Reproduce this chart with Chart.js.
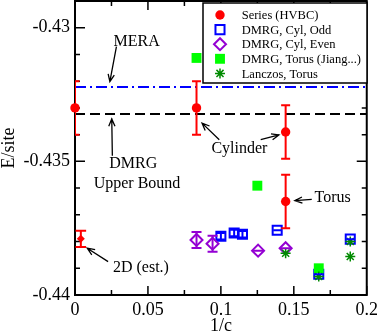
<!DOCTYPE html>
<html>
<head>
<meta charset="utf-8">
<script src="https://cdn.jsdelivr.net/npm/chart.js@4.4.1/dist/chart.umd.min.js"></script>
<style>
  html, body { margin: 0; padding: 0; background: #fff; }
  canvas { display: block; }
</style>
</head>
<body>
<canvas id="chart" width="382" height="335"></canvas>
<script>
// values
const seriesX = [0, 0.0833, 0.1444, 0.1444]
const seriesY = [-0.4330, -0.4330, -0.4339, -0.4365]
const seriesErr = [0.001, 0.001, 0.001, 0.001]

const est2dX = [0.004]
const est2dY = [-0.4379]
const est2dErr = [0.0003]

const cylOddX = [0.1000, 0.1091, 0.1148, 0.1386, 0.1671, 0.1887]
const cylOddY = [-0.43780, -0.43768, -0.43773, -0.43758, -0.43922, -0.43791]
const cylOddErr = [0.00012, 0.00012, 0.00012, 0, 0, 0]

const cylEvenX = [0.0833, 0.0943, 0.1255, 0.1444]
const cylEvenY = [-0.43794, -0.43808, -0.43834, -0.43825]
const cylEvenErr = [0.0003, 0.0003, 0, 0]

const torusJiangX = [0.0833, 0.125, 0.1671]
const torusJiangY = [-0.43113, -0.43591, -0.43900]

const lanczosX = [0.1444, 0.1671, 0.1887, 0.1887]
const lanczosY = [-0.43844, -0.43931, -0.43800, -0.43856]

const meraEnergy = -0.43222
const dmrgBound = -0.43323

const xTickValues = [0, 0.05, 0.1, 0.15, 0.2]
const xMinorTicks = [0.025, 0.075, 0.125, 0.175]
const yTickValues = [-0.44, -0.435, -0.43]
const yMinorTicks = [-0.439, -0.438, -0.437, -0.436, -0.434, -0.433, -0.432, -0.431, -0.429]

const legendLabels = ['Series (HVBC)', 'DMRG, Cyl, Odd', 'DMRG, Cyl, Even', 'DMRG, Torus (Jiang...)', 'Lanczos, Torus']

const notes = [
  {text: 'MERA', x: 0.0423, y: -0.43054},
  {text: 'DMRG', x: 0.0399, y: -0.43509},
  {text: 'Upper Bound', x: 0.0425, y: -0.43584},
  {text: 'Cylinder', x: 0.1127, y: -0.43453},
  {text: 'Torus', x: 0.1766, y: -0.43636},
  {text: '2D (est.)', x: 0.0452, y: -0.43900}
]
const arrows = [
  {from: [0.0284, -0.43071], to: [0.0239, -0.43202]},
  {from: [0.0256, -0.43479], to: [0.0252, -0.43341]},
  {from: [0.0989, -0.43419], to: [0.0871, -0.43357]},
  {from: [0.1273, -0.43419], to: [0.1398, -0.43401]},
  {from: [0.1623, -0.43642], to: [0.1507, -0.43647]},
  {from: [0.0227, -0.43875], to: [0.0084, -0.43825]}
]

const SERIF = '"Liberation Serif", "DejaVu Serif", serif'
const pts = (xs, ys) => xs.map((x, i) => ({x, y: ys[i]}))

const datasets = [
  {
    label: legendLabels[4], data: pts(lanczosX, lanczosY), order: 1,
    pointStyle: 'star', pointRadius: 5, borderColor: '#008b00', backgroundColor: '#008b00',
    pointBorderWidth: 1.5, legend: 4
  },
  {
    label: legendLabels[3], data: pts(torusJiangX, torusJiangY), order: 2,
    pointStyle: 'rect', pointRadius: 7, borderColor: '#00ff00', backgroundColor: '#00ff00',
    pointBorderWidth: 0, legend: 3
  },
  {
    label: legendLabels[2], data: pts(cylEvenX, cylEvenY), order: 3, errors: cylEvenErr, cap: 5,
    pointStyle: 'rectRot', pointRadius: 6, borderColor: '#9400d3', backgroundColor: 'rgba(0,0,0,0)',
    pointBorderWidth: 2, legend: 2
  },
  {
    label: legendLabels[1], data: pts(cylOddX, cylOddY), order: 4, errors: cylOddErr, cap: 4,
    pointStyle: 'rect', pointRadius: 6.4, borderColor: '#0000ff', backgroundColor: 'rgba(0,0,0,0)',
    pointBorderWidth: 2, legend: 1
  },
  {
    label: legendLabels[0], data: pts(seriesX, seriesY), order: 5, errors: seriesErr, cap: 4.5,
    pointStyle: 'circle', pointRadius: 4.7, borderColor: '#ff0000', backgroundColor: '#ff0000',
    pointBorderWidth: 0, legend: 0
  },
  {
    label: '2D (est.)', data: pts(est2dX, est2dY), order: 5, errors: est2dErr, cap: 5.3,
    pointStyle: 'rectRot', pointRadius: 4, borderColor: '#ff0000', backgroundColor: '#ff0000',
    pointBorderWidth: 0
  },
  {
    label: 'MERA', data: [{x: 0, y: meraEnergy}, {x: 0.2, y: meraEnergy}], order: 10,
    showLine: true, pointRadius: 0, borderColor: '#0000ff', borderWidth: 2, borderDash: [11, 4, 2, 4]
  },
  {
    label: 'DMRG', data: [{x: 0, y: dmrgBound}, {x: 0.2, y: dmrgBound}], order: 10,
    showLine: true, pointRadius: 0, borderColor: '#000000', borderWidth: 2, borderDash: [10, 5]
  }
]
datasets.forEach(d => { d.clip = false })

const framePlugin = {
  id: 'frame',
  beforeDatasetsDraw(chart) {
    const {ctx, chartArea: a, scales: {x, y}} = chart
    ctx.save()
    ctx.strokeStyle = '#000'
    ctx.lineWidth = 1.5
    ctx.beginPath()
    const xTick = (v, len) => {
      const px = x.getPixelForValue(v)
      ctx.moveTo(px, a.bottom); ctx.lineTo(px, a.bottom - len)
      ctx.moveTo(px, a.top); ctx.lineTo(px, a.top + len)
    }
    const yTick = (v, len) => {
      const py = y.getPixelForValue(v)
      ctx.moveTo(a.left, py); ctx.lineTo(a.left + len, py)
      ctx.moveTo(a.right, py); ctx.lineTo(a.right - len, py)
    }
    xTickValues.forEach(v => xTick(v, 9))
    xMinorTicks.forEach(v => xTick(v, 5))
    yTickValues.forEach(v => yTick(v, 10))
    yMinorTicks.forEach(v => yTick(v, 5))
    ctx.stroke()
    ctx.lineWidth = 2
    ctx.strokeRect(a.left, a.top, a.right - a.left, a.bottom - a.top)
    ctx.restore()
  }
}

const errorBarPlugin = {
  id: 'errorBars',
  afterDatasetsDraw(chart) {
    const {ctx, chartArea: a, scales: {y}} = chart
    ctx.save()
    ctx.beginPath()
    ctx.rect(a.left, a.top, a.right - a.left, a.bottom - a.top)
    ctx.clip()
    chart.data.datasets.forEach((ds, i) => {
      if (!ds.errors) return
      const meta = chart.getDatasetMeta(i)
      ctx.strokeStyle = ds.borderColor
      ctx.lineWidth = 2
      ds.data.forEach((p, j) => {
        const px = meta.data[j].x
        const top = y.getPixelForValue(p.y + ds.errors[j])
        const bot = y.getPixelForValue(p.y - ds.errors[j])
        ctx.beginPath()
        ctx.moveTo(px, top); ctx.lineTo(px, bot)
        ctx.moveTo(px - ds.cap, top); ctx.lineTo(px + ds.cap, top)
        ctx.moveTo(px - ds.cap, bot); ctx.lineTo(px + ds.cap, bot)
        ctx.stroke()
      })
    })
    ctx.restore()
  }
}

const notesPlugin = {
  id: 'notes',
  afterDraw(chart) {
    const {ctx, chartArea: a, scales: {x, y}} = chart
    ctx.save()
    ctx.fillStyle = '#000'
    ctx.font = '16px ' + SERIF
    ctx.textAlign = 'center'
    ctx.textBaseline = 'middle'
    notes.forEach(n => ctx.fillText(n.text, x.getPixelForValue(n.x), y.getPixelForValue(n.y)))

    ctx.strokeStyle = '#000'
    ctx.lineWidth = 1.3
    arrows.forEach(ar => {
      const x0 = x.getPixelForValue(ar.from[0]), y0 = y.getPixelForValue(ar.from[1])
      const x1 = x.getPixelForValue(ar.to[0]), y1 = y.getPixelForValue(ar.to[1])
      const ang = Math.atan2(y1 - y0, x1 - x0)
      ctx.beginPath()
      ctx.moveTo(x0, y0); ctx.lineTo(x1, y1)
      ctx.moveTo(x1 - 8 * Math.cos(ang - 0.4), y1 - 8 * Math.sin(ang - 0.4))
      ctx.lineTo(x1, y1)
      ctx.lineTo(x1 - 8 * Math.cos(ang + 0.4), y1 - 8 * Math.sin(ang + 0.4))
      ctx.stroke()
    })

    // legend box in the top right corner
    const bx = a.left + 128, by = a.top + 2, bw = 164, bh = 80
    ctx.fillStyle = '#fff'
    ctx.fillRect(bx, by, bw, bh)
    ctx.lineWidth = 1.5
    ctx.strokeRect(bx, by, bw, bh)
    const entries = chart.data.datasets.filter(d => d.legend !== undefined)
      .sort((p, q) => p.legend - q.legend)
    ctx.font = '12.5px ' + SERIF
    ctx.textAlign = 'left'
    entries.forEach((d, i) => {
      const ly = by + 12 + i * 14.6
      ctx.fillStyle = d.backgroundColor
      ctx.strokeStyle = d.borderColor
      ctx.lineWidth = d.pointBorderWidth
      Chart.helpers.drawPoint(ctx, {
        pointStyle: d.pointStyle, radius: d.pointRadius, rotation: 0, borderWidth: d.pointBorderWidth
      }, bx + 17, ly)
      ctx.fillStyle = '#000'
      ctx.fillText(d.label, bx + 38.7, ly + 1)
    })
    ctx.restore()
  }
}

new Chart(document.getElementById('chart'), {
  type: 'scatter',
  data: {datasets},
  options: {
    responsive: false,
    animation: false,
    layout: {autoPadding: false, padding: {top: 1, right: 14, left: 0, bottom: 0}},
    plugins: {legend: {display: false}, tooltip: {enabled: false}},
    scales: {
      x: {
        type: 'linear', min: 0, max: 0.2,
        afterBuildTicks: s => { s.ticks = xTickValues.map(v => ({value: v})) },
        afterFit: s => { s.height = 40 },
        grid: {display: false, drawTicks: false},
        border: {display: false},
        ticks: {color: '#000', padding: 4, font: {family: SERIF, size: 18}, callback: v => String(v)},
        title: {display: true, text: '1/c', color: '#000', padding: 0, font: {family: SERIF, size: 18, lineHeight: 1}}
      },
      y: {
        type: 'linear', min: -0.44, max: -0.429,
        afterBuildTicks: s => { s.ticks = yTickValues.map(v => ({value: v})) },
        afterFit: s => { s.width = 75; s.paddingTop = 0 },
        grid: {display: false, drawTicks: false},
        border: {display: false},
        ticks: {color: '#000', padding: 5, font: {family: SERIF, size: 18}, callback: v => String(v)},
        title: {display: true, text: 'E/site', color: '#000', padding: 0, font: {family: SERIF, size: 18, lineHeight: 1}}
      }
    }
  },
  plugins: [framePlugin, errorBarPlugin, notesPlugin]
})
</script>
</body>
</html>
